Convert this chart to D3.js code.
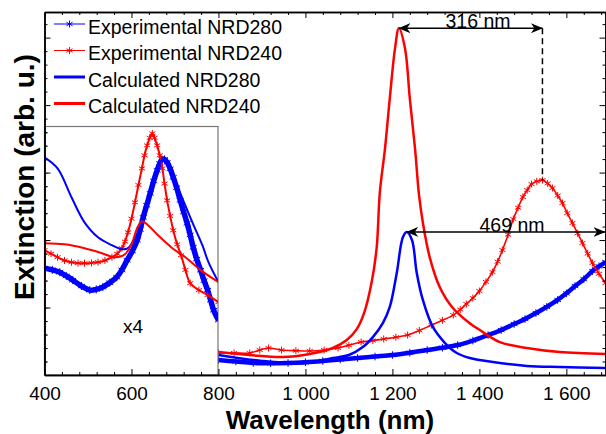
<!DOCTYPE html>
<html>
<head>
<meta charset="utf-8">
<script src="https://cdn.jsdelivr.net/npm/d3@7"></script>
<style>
  body { margin: 0; background: #fff; }
  svg { display: block; }
  text { font-family: "Liberation Sans", Arial, sans-serif; }
</style>
</head>
<body>
<svg id="chart" width="606" height="434"></svg>
<script>
// ---- datos: [longitud de onda (nm), extincion (u. arb.)] ----
// grafico principal
var calc280 = [[800,1.48],[900,1.04],[1000,0.89],[1063,1.26],[1100,1.48],[1132,2.07],[1155,2.81],[1178,3.85],
  [1194,5.04],[1210,7.56],[1224,10.2],[1233,10.6],[1245,10.0],[1256,7.56],[1270,5.56],[1293,3.56],[1321,2.37],
  [1348,1.63],[1378,1.26],[1431,0.96],[1509,0.67],[1585,0.59],[1690,0.52]];
var calc240 = [[800,1.70],[872,1.48],[948,1.33],[1010,1.56],[1063,2.0],[1095,2.59],[1118,3.4],[1135,4.6],
  [1153,7.0],[1164,9.5],[1171,13.5],[1183,16.8],[1194,20.5],[1206,24.2],[1215,25.7],[1229,24.2],[1240,20.5],
  [1252,16.8],[1261,13.4],[1270,11.3],[1286,8.7],[1309,6.5],[1338,5.0],[1377,3.85],[1401,3.33],[1447,2.44],
  [1509,2.0],[1585,1.70],[1690,1.56]];
var exp280 = [[800,1.11],[840,1.0],[880,0.89],[920,0.87],[960,0.89],[1000,0.95],[1040,1.04],[1080,1.15],[1120,1.26],
  [1160,1.37],[1200,1.48],[1240,1.65],[1280,1.85],[1315,2.02],[1350,2.22],[1385,2.55],[1420,2.96],[1450,3.33],
  [1480,3.78],[1505,4.15],[1530,4.59],[1555,5.05],[1580,5.56],[1600,6.05],[1620,6.59],[1640,7.1],[1660,7.70],
  [1675,8.05],[1690,8.37]];
var exp240 = [[800,1.63],[836,1.63],[872,1.63],[895,1.85],[915,2.0],[945,1.85],[978,1.8],[1010,1.78],[1043,1.85],
  [1075,2.0],[1100,2.2],[1128,2.44],[1155,2.55],[1180,2.67],[1208,2.8],[1235,2.96],[1262,3.3],[1290,3.70],
  [1315,4.05],[1340,4.44],[1356,4.85],[1370,5.26],[1385,5.7],[1400,6.22],[1415,6.9],[1430,7.63],[1442,8.4],
  [1453,9.26],[1466,10.4],[1478,11.56],[1489,12.4],[1500,13.19],[1510,13.7],[1520,14.15],[1532,14.35],
  [1545,14.44],[1557,14.2],[1568,13.85],[1580,13.3],[1591,12.74],[1602,12.0],[1614,11.26],[1626,10.5],
  [1637,9.78],[1649,9.0],[1660,8.30],[1675,7.5],[1690,6.81]];

// recuadro (x4)
var calc280Inset = [[400,16.15],[430,15.33],[462,13.19],[492,11.33],[523,10.22],[555,9.63],[578,9.33],[592,9.41],
  [608,10.15],[624,11.33],[638,12.81],[654,14.59],[666,15.78],[673,16.07],[694,14.81],[717,13.11],[740,11.33],
  [763,9.63],[777,8.37],[800,6.89]];
var calc240Inset = [[400,9.78],[446,9.70],[492,9.41],[532,9.04],[562,8.74],[585,8.96],[601,9.78],[613,10.89],
  [624,11.41],[638,11.11],[661,10.37],[694,9.41],[724,8.74],[759,7.78],[800,6.89]];
var exp280Inset = [[400,7.93],[418,7.8],[435,7.63],[450,7.35],[465,7.04],[485,6.6],[504,6.30],[519,6.35],[534,6.52],
  [550,6.85],[566,7.26],[578,7.8],[590,8.52],[602,9.2],[613,10.0],[620,10.8],[627,11.70],[635,12.6],[643,13.48],
  [651,14.4],[659,15.19],[665,15.7],[670,16.0],[676,16.0],[682,15.78],[689,15.3],[696,14.67],[704,13.9],[712,12.96],
  [720,12.1],[728,11.26],[735,10.4],[742,9.48],[750,8.6],[759,7.78],[767,7.0],[775,6.30],[782,5.55],[789,4.81],[800,4.07]];
var exp240Inset = [[400,9.26],[415,9.0],[430,8.74],[446,8.5],[462,8.37],[477,8.3],[492,8.30],[508,8.32],[523,8.37],
  [539,8.5],[555,8.74],[567,9.0],[578,9.41],[585,9.9],[592,10.59],[600,11.6],[608,12.81],[616,14.1],[624,15.33],
  [630,16.3],[636,17.04],[642,17.6],[648,17.93],[653,17.6],[659,17.04],[665,16.3],[671,15.33],[676,14.2],
  [682,12.96],[689,11.8],[696,10.74],[705,9.7],[714,8.89],[724,7.8],[735,6.81],[755,6.3],[775,5.93],[800,5.41]];

var xTicksMajor = [400, 600, 800, 1000, 1200, 1400, 1600];
var xTickLabels = ["400", "600", "800", "1 000", "1 200", "1 400", "1 600"];
var legendLabels = ["Experimental NRD280", "Experimental NRD240", "Calculated NRD280", "Calculated NRD240"];

// ---- configuracion ----
var azul = "#0000ff", rojo = "#ff0000";
var svg = d3.select("#chart");

var x = d3.scaleLinear().domain([400, 1690]).range([44.5, 605.5]);
var y = d3.scaleLinear().domain([0, 26.9]).range([375, 12]);
// el recuadro usa la misma escala en pixeles pero su propio eje
var yIn = d3.scaleLinear().domain([0, 18.44]).range([375, 126.5]);

svg.append("defs").append("clipPath").attr("id", "clipMain")
  .append("rect").attr("x", 44.5).attr("y", 12).attr("width", 561).attr("height", 363);
svg.select("defs").append("clipPath").attr("id", "clipInset")
  .append("rect").attr("x", 44.5).attr("y", 126.5).attr("width", 173.5).attr("height", 248.5);

// punta de flecha
svg.select("defs").append("marker")
  .attr("id", "flecha").attr("viewBox", "0 0 12 10").attr("refX", 11.5).attr("refY", 5)
  .attr("markerWidth", 12).attr("markerHeight", 10).attr("markerUnits", "userSpaceOnUse")
  .attr("orient", "auto-start-reverse")
  .append("path").attr("d", "M0,0 L12,5 L0,10 L3.5,5 Z").attr("fill", "#000");

// simbolo asterisco
function asterisco(r) {
  var c = r * Math.cos(Math.PI / 6), s = r / 2;
  return "M0," + (-r) + "L0," + r + "M" + (-c) + "," + (-s) + "L" + c + "," + s +
         "M" + (-c) + "," + s + "L" + c + "," + (-s);
}

function dibujarSerie(g, datos, ys, color, ancho, conMarcas, anchoMarca, r) {
  var linea = d3.line()
    .x(function (d) { return x(d[0]); })
    .y(function (d) { return ys(d[1]); })
    .curve(d3.curveCatmullRom.alpha(0.5));
  g.append("path").datum(datos)
    .attr("d", linea).attr("fill", "none").attr("stroke", color)
    .attr("stroke-width", ancho).attr("stroke-linejoin", "round");
  if (conMarcas) {
    g.selectAll(null).data(datos).enter().append("path")
      .attr("d", asterisco(r))
      .attr("transform", function (d) { return "translate(" + x(d[0]) + "," + ys(d[1]) + ")"; })
      .attr("stroke", color).attr("stroke-width", anchoMarca).attr("fill", "none");
  }
}

// ---- curvas del grafico principal ----
var gMain = svg.append("g").attr("clip-path", "url(#clipMain)");
dibujarSerie(gMain, exp280, y, azul, 4.5, true, 1, 3.8);
dibujarSerie(gMain, exp240, y, rojo, 1.6, true, 1, 3.5);
dibujarSerie(gMain, calc280, y, azul, 2.5, false);
dibujarSerie(gMain, calc240, y, rojo, 2.5, false);

// ---- recuadro ----
svg.append("rect").attr("x", 44.5).attr("y", 126.5).attr("width", 173.5).attr("height", 248.5)
  .attr("fill", "#fff").attr("stroke", "#777").attr("stroke-width", 1.2);
var gIn = svg.append("g").attr("clip-path", "url(#clipInset)");
dibujarSerie(gIn, exp280Inset, yIn, azul, 5.5, true, 1, 4);
dibujarSerie(gIn, exp240Inset, yIn, rojo, 2, true, 1, 3.5);
dibujarSerie(gIn, calc280Inset, yIn, azul, 2, false);
dibujarSerie(gIn, calc240Inset, yIn, rojo, 2, false);

// ticks del recuadro (hacia dentro)
svg.append("g").attr("transform", "translate(44.5,0)")
  .call(d3.axisLeft(yIn).tickValues(d3.range(1, 19, 1)).tickSize(-3).tickFormat("").tickSizeOuter(0))
  .call(function (g) { g.select(".domain").remove(); g.selectAll("line").attr("stroke", "#444"); });
svg.append("text").attr("x", 133).attr("y", 333).attr("text-anchor", "middle")
  .style("font-size", "19px").text("x4");

// ---- ejes ----
function estiloEje(g) {
  g.select(".domain").attr("stroke", "#000").attr("stroke-width", 1.5);
  g.selectAll(".tick line").attr("stroke", "#000");
}
var menoresX = d3.range(400, 1691, 40).filter(function (v) { return xTicksMajor.indexOf(v) < 0; });

// abajo
svg.append("g").attr("transform", "translate(0,375)")
  .call(d3.axisBottom(x).tickValues(menoresX).tickSize(-3).tickFormat("").tickSizeOuter(0))
  .call(estiloEje);
svg.append("g").attr("transform", "translate(0,375)")
  .call(d3.axisBottom(x).tickValues(xTicksMajor).tickSize(-6).tickPadding(12)
    .tickFormat(function (d, i) { return xTickLabels[i]; }).tickSizeOuter(0))
  .call(estiloEje)
  .call(function (g) { g.selectAll("text").style("font-size", "19px").attr("fill", "#000"); });
// arriba
svg.append("g").attr("transform", "translate(0,12)")
  .call(d3.axisTop(x).tickValues(menoresX).tickSize(-3).tickFormat("").tickSizeOuter(0))
  .call(estiloEje);
svg.append("g").attr("transform", "translate(0,12)")
  .call(d3.axisTop(x).tickValues(xTicksMajor).tickSize(-6).tickFormat("").tickSizeOuter(0))
  .call(estiloEje);
// izquierda y derecha
var menoresY = d3.range(1, 27, 1).filter(function (v) { return v % 5 !== 0; });
[[44.5, d3.axisLeft], [605.5, d3.axisRight]].forEach(function (e) {
  svg.append("g").attr("transform", "translate(" + e[0] + ",0)")
    .call(e[1](y).tickValues(menoresY).tickSize(-3).tickFormat("").tickSizeOuter(0))
    .call(estiloEje);
  svg.append("g").attr("transform", "translate(" + e[0] + ",0)")
    .call(e[1](y).tickValues([5, 10, 15, 20, 25]).tickSize(-6).tickFormat("").tickSizeOuter(0))
    .call(estiloEje);
});

// titulos de ejes
svg.append("text").attr("x", 330).attr("y", 429).attr("text-anchor", "middle")
  .style("font-size", "26px").style("font-weight", "bold").text("Wavelength (nm)");
svg.append("text").attr("transform", "translate(34,177) rotate(-90)").attr("text-anchor", "middle")
  .style("font-size", "28px").style("font-weight", "bold").text("Extinction (arb. u.)");

// ---- leyenda ----
var colores = [azul, rojo, azul, rojo];
legendLabels.forEach(function (t, i) {
  var yl = 24 + i * 26.5;
  var g = svg.append("g");
  g.append("line").attr("x1", 54).attr("x2", 85).attr("y1", yl).attr("y2", yl)
    .attr("stroke", colores[i]).attr("stroke-width", i < 2 ? 1 : 3);
  if (i < 2) {
    g.append("path").attr("d", asterisco(3.5)).attr("transform", "translate(69.5," + yl + ")")
      .attr("stroke", colores[i]).attr("stroke-width", 1).attr("fill", "none");
  }
  g.append("text").attr("x", 88).attr("y", yl + 9.5).style("font-size", "19.5px").attr("fill", "#000").text(t);
});

// ---- anotaciones ----
var pico240 = [1215, 25.7], picoExp240 = [1545, 14.44], pico280 = [1233, 10.6];
svg.append("line").attr("x1", x(pico240[0])).attr("x2", x(picoExp240[0]))
  .attr("y1", y(pico240[1])).attr("y2", y(pico240[1]))
  .attr("stroke", "#000").attr("stroke-width", 1.5)
  .attr("marker-start", "url(#flecha)").attr("marker-end", "url(#flecha)");
svg.append("line").attr("x1", x(picoExp240[0])).attr("x2", x(picoExp240[0]))
  .attr("y1", y(pico240[1])).attr("y2", y(picoExp240[1]))
  .attr("stroke", "#000").attr("stroke-width", 1.5).attr("stroke-dasharray", "6,4");
svg.append("text").attr("x", 478).attr("y", 28).attr("text-anchor", "middle")
  .style("font-size", "19.5px").text("316 nm");

svg.append("line").attr("x1", x(pico280[0])).attr("x2", 605)
  .attr("y1", y(pico280[1])).attr("y2", y(pico280[1]))
  .attr("stroke", "#000").attr("stroke-width", 1.5)
  .attr("marker-start", "url(#flecha)").attr("marker-end", "url(#flecha)");
svg.append("text").attr("x", 512).attr("y", 232).attr("text-anchor", "middle")
  .style("font-size", "19.5px").text("469 nm");
</script>
</body>
</html>
